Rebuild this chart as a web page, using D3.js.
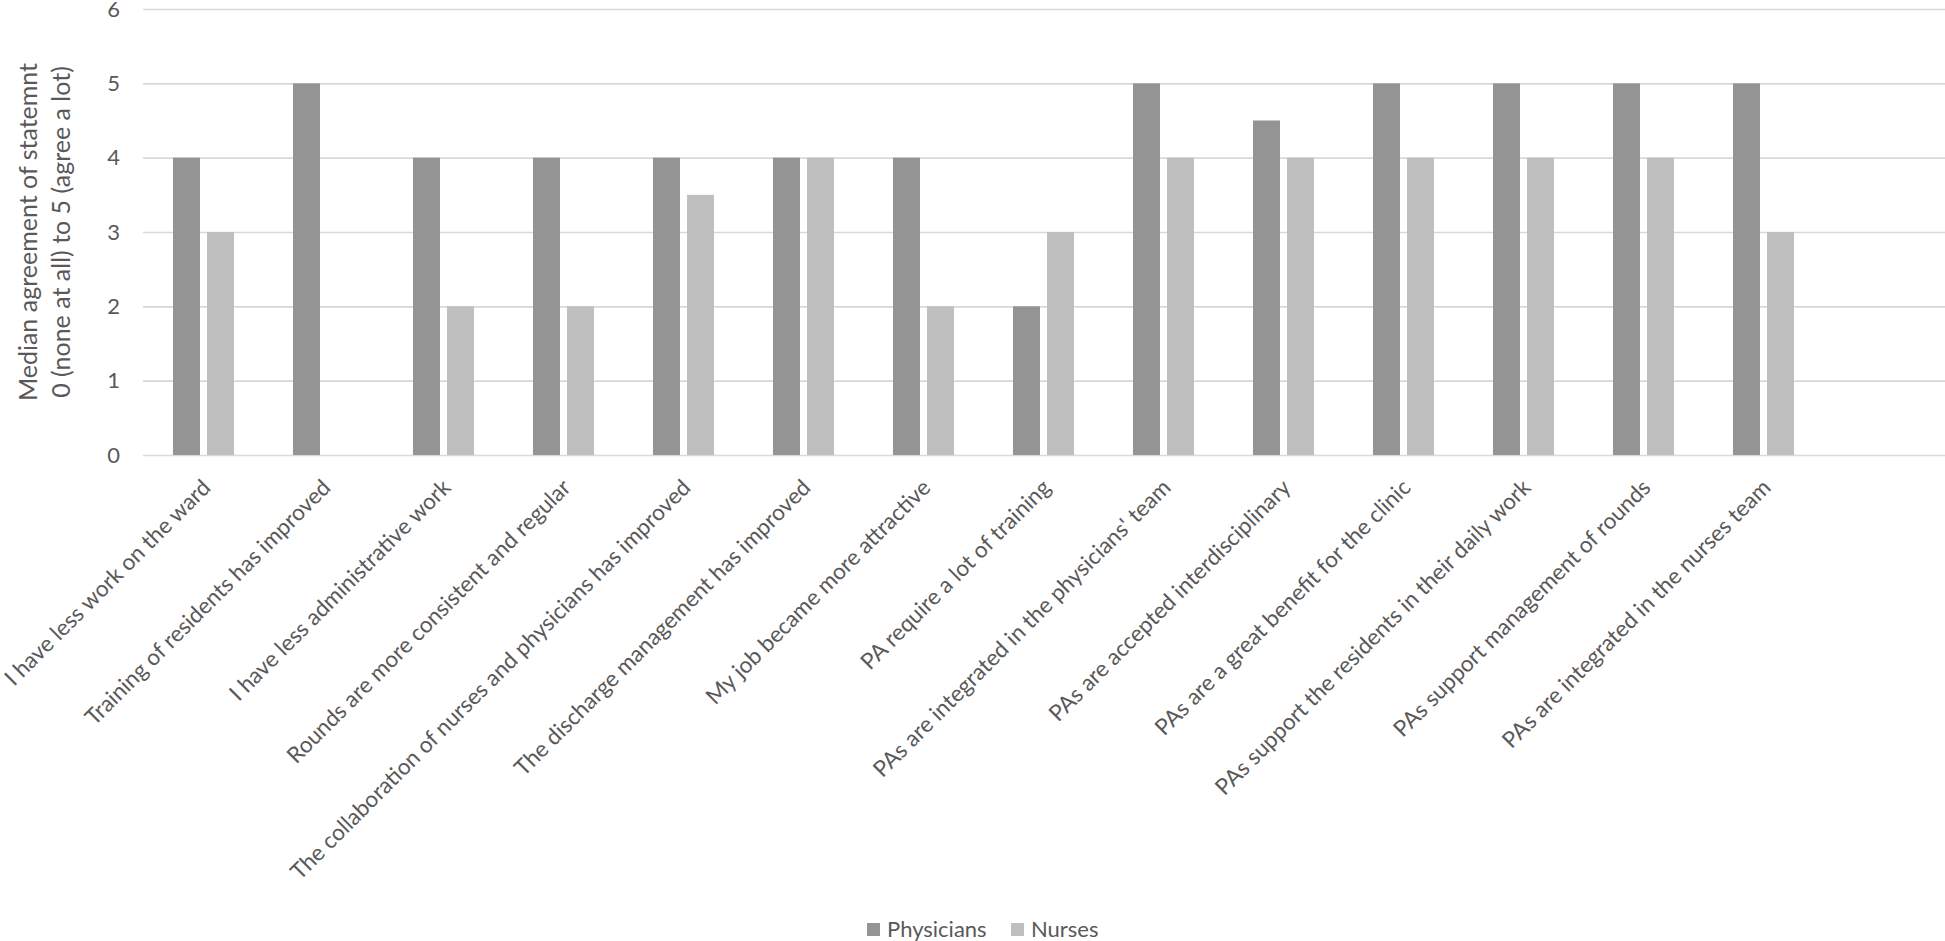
<!DOCTYPE html>
<html>
<head>
<meta charset="utf-8">
<script src="https://cdn.jsdelivr.net/npm/d3@7"></script>
<style>
  body { margin: 0; background: #fff; }
  text { font-family: Lato, "Noto Sans", sans-serif; fill: #595959; }
</style>
</head>
<body>
<svg></svg>
<script>
const w = 1945;
const h = 941;

// chart data
const categories = [
    'I have less work on the ward',
    'Training of residents has improved',
    'I have less administrative work',
    'Rounds are more consistent and regular',
    'The collaboration of nurses and physicians has improved',
    'The discharge management has improved',
    'My job became more attractive',
    'PA require a lot of training',
    "PAs are integrated in the physicians' team",
    'PAs are accepted interdisciplinary',
    'PAs are a great benefit for the clinic',
    'PAs support the residents in their daily work',
    'PAs support management of rounds',
    'PAs are integrated in the nurses team'
];
const seriesNames = ['Physicians', 'Nurses'];
const physicians = [4, 5, 4, 4, 4, 4, 4, 2, 5, 4.5, 5, 5, 5, 5];
const nurses = [3, null, 2, 2, 3.5, 4, 2, 3, 4, 4, 4, 4, 4, 3];
const yTicks = [0, 1, 2, 3, 4, 5, 6];
const colors = ['#949494', '#bfbfbf'];

const plotLeft = 143, plotTop = 9, plotBottom = 455, gridRight = 1945;
const step = 120;

const svg = d3.select('svg').attr('width', w).attr('height', h);

const x0 = d3.scaleBand()
    .domain(categories)
    .range([plotLeft, plotLeft + step * categories.length]);
const x1 = d3.scaleBand()
    .domain(seriesNames)
    .range([30, 91])
    .paddingInner(0.206);
const y = d3.scaleLinear().domain([0, 6]).range([plotBottom, plotTop]);

// gridlines + y tick labels
const yAxis = d3.axisLeft(y)
    .tickValues(yTicks)
    .tickFormat(d3.format('d'))
    .tickSizeInner(-(gridRight - plotLeft))
    .tickSizeOuter(0)
    .tickPadding(23);
const gy = svg.append('g')
    .attr('transform', 'translate(' + plotLeft + ',0)')
    .call(yAxis);
gy.select('.domain').remove();
gy.selectAll('.tick line').attr('stroke', '#d9d9d9').attr('stroke-width', 1.6);
gy.selectAll('.tick text')
    .attr('fill', '#595959')
    .style('font-size', '22px')
    .attr('dy', '0.33em');

// bars
const rows = categories.map((c, i) => ({
    cat: c,
    vals: [physicians[i], nurses[i]]
}));
const groups = svg.append('g')
    .selectAll('g')
    .data(rows)
    .join('g')
    .attr('transform', (d) => 'translate(' + x0(d.cat) + ',0)');
groups.selectAll('rect')
    .data((d) => d.vals.map((v, j) => ({ key: seriesNames[j], v: v, j: j })).filter((e) => e.v != null))
    .join('rect')
    .attr('x', (d) => x1(d.key))
    .attr('y', (d) => y(d.v))
    .attr('width', x1.bandwidth())
    .attr('height', (d) => y(0) - y(d.v))
    .attr('fill', (d) => colors[d.j]);

// x axis labels (rotated)
const xAxis = d3.axisBottom(x0).tickSize(0).tickPadding(0);
const gx = svg.append('g')
    .attr('transform', 'translate(0,' + plotBottom + ')')
    .call(xAxis);
gx.select('.domain').remove();
gx.selectAll('.tick text')
    .attr('fill', '#595959')
    .style('font-size', '22.5px')
    .attr('text-anchor', 'end')
    .attr('y', 0)
    .attr('dy', 0)
    .attr('transform', 'translate(9,34) rotate(-45)');

// y axis title
const titleLines = ['Median agreement of statemnt', '0 (none at all) to 5 (agree a lot)'];
svg.append('g')
    .selectAll('text')
    .data(titleLines)
    .join('text')
    .attr('transform', (d, i) => 'translate(' + (37 + i * 33) + ',' + (plotTop + plotBottom) / 2 + ') rotate(-90)')
    .attr('text-anchor', 'middle')
    .style('font-size', '25px')
    .text((d) => d);

// legend
const legend = svg.append('g')
    .selectAll('g')
    .data(seriesNames)
    .join('g')
    .attr('transform', (d, i) => 'translate(' + (867 + i * 144) + ',923)');
legend.append('rect')
    .attr('width', 13)
    .attr('height', 13)
    .attr('fill', (d, i) => colors[i]);
legend.append('text')
    .attr('x', 20)
    .attr('y', 14)
    .style('font-size', '22px')
    .text((d) => d);
</script>
</body>
</html>
